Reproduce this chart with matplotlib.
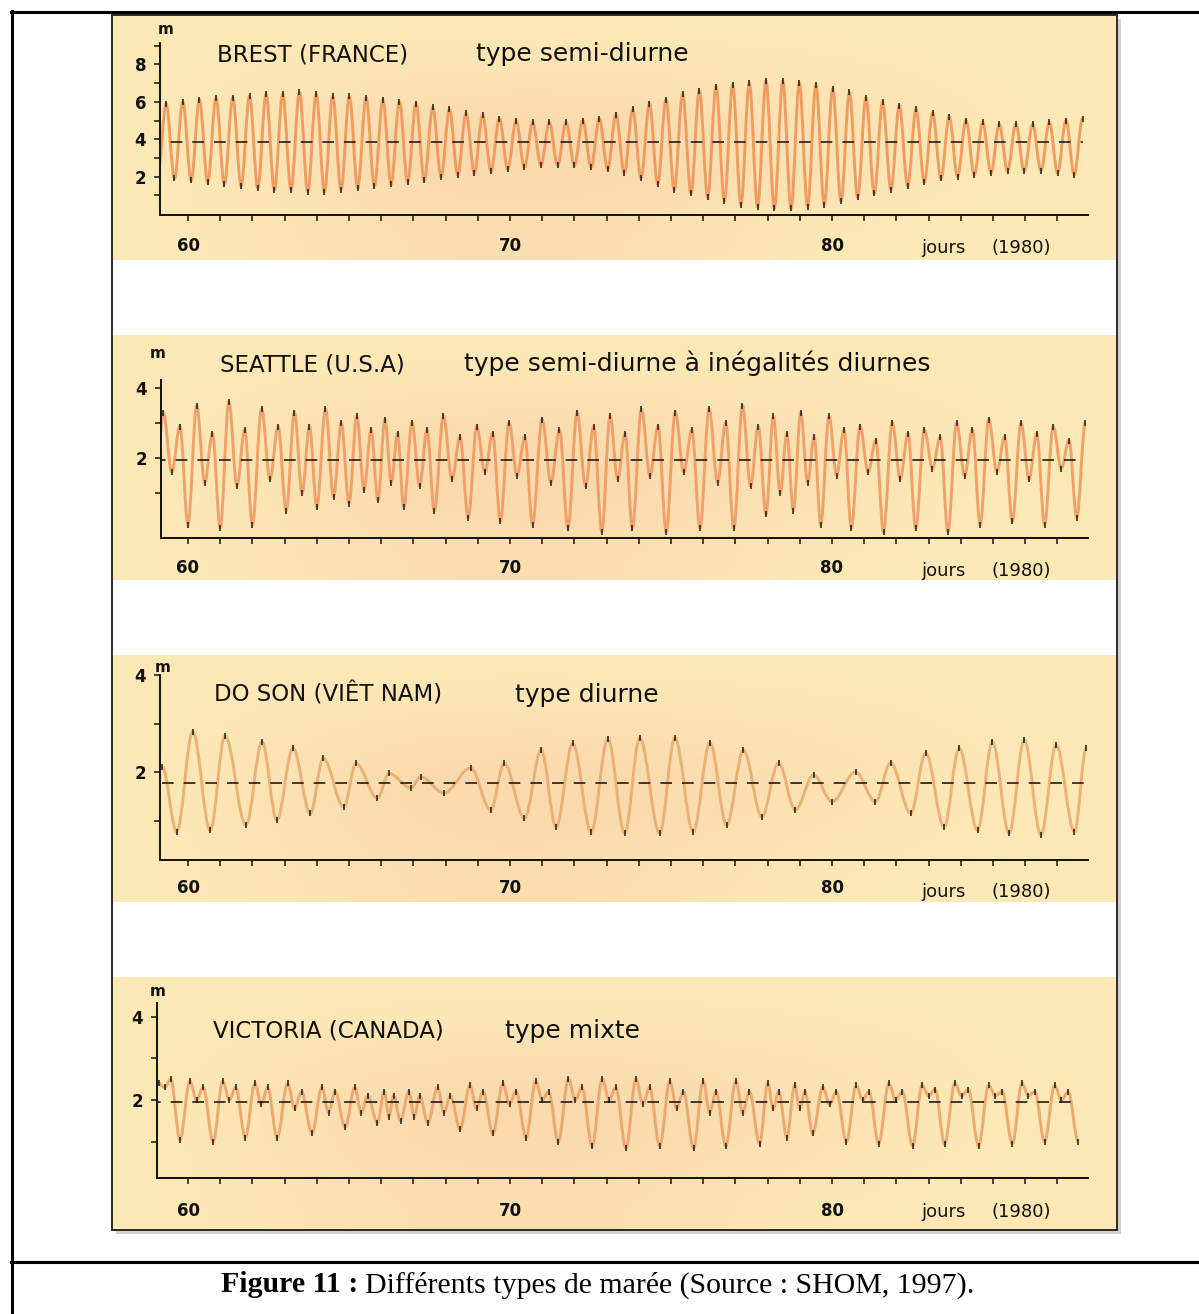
import numpy as np
import matplotlib

matplotlib.use("Agg")
import matplotlib.pyplot as plt
from matplotlib.path import Path
from matplotlib.patches import PathPatch, Rectangle

plt.rcParams["font.family"] = ["DejaVu Sans"]

W, H = 1199, 1314

# ---- values (days of 1980, water level in m) ----
# Brest, semi-diurnal: each lunar day = HW1, LW1, HW2, LW2
brest_days = [58.80, 59.84, 60.87, 61.91, 62.94, 63.98, 65.01, 66.05, 67.08, 68.12,
              69.15, 70.19, 71.22, 72.26, 73.29, 74.33, 75.36, 76.40, 77.43, 78.47,
              79.50, 80.54, 81.57, 82.61, 83.64, 84.68, 85.71, 86.75, 87.78]
brest_hw1 = [5.8, 6.0, 6.2, 6.3, 6.4, 6.4, 6.3, 6.1, 5.9, 5.6, 5.3, 5.0, 4.9, 5.0, 5.3,
             5.9, 6.4, 6.8, 7.0, 7.1, 6.9, 6.5, 6.0, 5.6, 5.2, 4.9, 4.8, 4.9, 5.1]
brest_lw1 = [2.0, 1.8, 1.6, 1.4, 1.3, 1.2, 1.4, 1.6, 1.8, 2.1, 2.3, 2.5, 2.6, 2.5, 2.2,
             1.6, 1.1, 0.7, 0.4, 0.3, 0.5, 0.9, 1.3, 1.7, 2.0, 2.2, 2.3, 2.2, 2.0]
brest_hw2 = [5.9, 6.1, 6.2, 6.4, 6.5, 6.3, 6.2, 6.0, 5.7, 5.4, 5.1, 4.9, 4.9, 5.1, 5.6,
             6.1, 6.6, 6.9, 7.1, 7.0, 6.7, 6.2, 5.8, 5.4, 5.0, 4.8, 4.8, 5.0, 5.2]
brest_lw2 = [1.9, 1.7, 1.5, 1.3, 1.2, 1.3, 1.5, 1.7, 2.0, 2.2, 2.4, 2.6, 2.6, 2.4, 1.9,
             1.3, 0.9, 0.5, 0.3, 0.4, 0.7, 1.1, 1.5, 1.9, 2.1, 2.3, 2.3, 2.1, 1.9]
brest_mean = 3.85

# Seattle, semi-diurnal with diurnal inequality: LL, HH, HL, LH per day
seattle_days = [58.95, 60.0, 61.0, 62.0, 63.05, 64.0, 65.0, 65.9, 66.7, 67.65,
                68.7, 69.7, 70.7, 71.8, 72.85, 73.8, 74.85, 75.9, 76.95, 77.95,
                78.8, 79.65, 80.6, 81.6, 82.6, 83.6, 84.6, 85.6, 86.6, 87.6]
seattle_ll = [0.5, 0.1, 0.0, 0.1, 0.5, 0.6, 0.7, 0.8, 0.6, 0.5, 0.3, 0.2, 0.1, 0.0, -0.1,
              0.0, -0.1, 0.0, 0.0, 0.4, 0.5, 0.1, 0.0, -0.1, 0.0, -0.1, 0.1, 0.2, 0.1, 0.3]
seattle_hh = [3.3, 3.5, 3.6, 3.4, 3.3, 3.4, 3.2, 3.1, 3.0, 3.2, 2.9, 3.0, 3.1, 3.3, 3.2,
              3.4, 3.3, 3.4, 3.5, 3.2, 3.3, 3.2, 2.9, 3.0, 2.8, 3.0, 3.1, 3.0, 2.9, 3.0]
seattle_hl = [1.6, 1.3, 1.2, 1.4, 1.0, 0.9, 1.1, 1.3, 1.2, 1.4, 1.6, 1.5, 1.3, 1.2, 1.4,
              1.5, 1.6, 1.3, 1.2, 1.0, 1.3, 1.5, 1.6, 1.4, 1.7, 1.5, 1.6, 1.4, 1.7, 1.5]
seattle_lh = [2.9, 2.7, 2.8, 2.9, 2.9, 3.0, 2.8, 2.7, 2.8, 2.6, 2.7, 2.6, 2.8, 2.9, 2.7,
              2.9, 2.8, 3.0, 2.9, 2.7, 2.6, 2.8, 2.5, 2.7, 2.6, 2.8, 2.6, 2.7, 2.5, 2.4]
seattle_mean = 1.95

# Do Son, diurnal: one high and one low water a day
doson_hw_t = [59.2, 60.15, 61.15, 62.3, 63.26, 64.2, 65.22, 66.24, 67.23, 68.78,
              69.82, 70.97, 71.95, 73.04, 74.03, 75.12, 76.21, 77.25, 78.34, 79.43,
              80.73, 81.82, 82.91, 83.95, 84.98, 85.97, 86.96, 87.9]
doson_hw = [2.1, 2.83, 2.74, 2.62, 2.49, 2.28, 2.18, 1.97, 1.90, 2.08,
            2.18, 2.45, 2.59, 2.69, 2.70, 2.70, 2.60, 2.45, 2.19, 1.94,
            2.00, 2.19, 2.39, 2.49, 2.62, 2.66, 2.56, 2.50]
doson_lw_t = [59.65, 60.69, 61.8, 62.76, 63.8, 64.84, 65.88, 66.92, 67.95, 69.4,
              70.45, 71.43, 72.52, 73.56, 74.65, 75.69, 76.73, 77.82, 78.86, 80.0,
              81.35, 82.44, 83.48, 84.52, 85.5, 86.49, 87.53]
doson_lw = [0.77, 0.80, 0.91, 1.01, 1.15, 1.28, 1.46, 1.67, 1.57, 1.22,
            1.05, 0.87, 0.77, 0.74, 0.74, 0.77, 0.91, 1.08, 1.22, 1.39,
            1.39, 1.15, 0.87, 0.80, 0.74, 0.70, 0.77]
doson_mean = 1.77

# Victoria, mixed: LL, HH, HL, LH per day
victoria_days = [58.8, 59.75, 60.78, 61.78, 62.77, 63.85, 64.88, 65.88, 66.6, 67.45,
                 68.45, 69.47, 70.5, 71.5, 72.55, 73.6, 74.65, 75.7, 76.7, 77.75,
                 78.6, 79.4, 80.45, 81.45, 82.5, 83.5, 84.55, 85.6, 86.6, 87.65]
victoria_ll = [1.2, 1.05, 1.0, 1.1, 1.1, 1.2, 1.35, 1.45, 1.5, 1.45, 1.3, 1.2, 1.1, 1.0, 0.9,
               0.85, 0.9, 0.85, 0.9, 0.95, 1.1, 1.2, 1.0, 0.95, 0.9, 0.95, 0.9, 0.95, 1.0, 1.0]
victoria_hh = [2.4, 2.45, 2.45, 2.4, 2.4, 2.3, 2.3, 2.2, 2.2, 2.3, 2.35, 2.4, 2.45, 2.5, 2.5,
               2.5, 2.45, 2.45, 2.45, 2.4, 2.35, 2.3, 2.35, 2.4, 2.35, 2.4, 2.35, 2.4, 2.35, 2.3]
victoria_hl = [2.3, 2.0, 2.0, 1.9, 1.8, 1.7, 1.7, 1.6, 1.6, 1.7, 1.8, 1.9, 2.0, 2.0, 2.0,
               1.9, 1.8, 1.7, 1.7, 1.8, 1.8, 1.9, 2.0, 2.0, 2.1, 2.1, 2.1, 2.1, 2.0, 2.0]
victoria_lh = [2.5, 2.3, 2.3, 2.3, 2.2, 2.2, 2.1, 2.1, 2.1, 2.1, 2.2, 2.2, 2.2, 2.3, 2.3,
               2.3, 2.2, 2.2, 2.2, 2.2, 2.2, 2.2, 2.2, 2.2, 2.25, 2.25, 2.2, 2.2, 2.2, 2.2]
victoria_mean = 1.95

day_ticks = list(range(60, 88))
day_labels = {60: "60", 70: "70", 80: "80"}
LAST_DAY = 87.95


def px_to_day(x):
    return 60 + (x - 188) / 32.2


def daily_extremes(days, series, fracs):
    """spread the extremes of each day over the interval to the next day"""
    t, h = [], []
    for i, d in enumerate(days):
        step = days[i + 1] - d if i + 1 < len(days) else d - days[i - 1]
        for frac, vals in zip(fracs, series):
            t.append(d + frac * step)
            h.append(vals[i])
    t, h = np.array(t), np.array(h)
    keep = t <= LAST_DAY
    return t[keep], h[keep]


def merge_extremes(t_hi, h_hi, t_lo, h_lo):
    t = np.array(t_hi + t_lo)
    h = np.array(h_hi + h_lo)
    order = np.argsort(t)
    return t[order], h[order]


def tide_path(t, h, k=0.36):
    verts = [(t[0], h[0])]
    codes = [Path.MOVETO]
    for t0, h0, t1, h1 in zip(t[:-1], h[:-1], t[1:], h[1:]):
        dt = t1 - t0
        verts += [(t0 + k * dt, h0), (t1 - k * dt, h1), (t1, h1)]
        codes += [Path.CURVE4] * 3
    return Path(verts, codes)


fig = plt.figure(figsize=(W / 100, H / 100), dpi=100)
fig.patch.set_facecolor("white")

bg = fig.add_axes([0, 0, 1, 1])
bg.set_zorder(0)
bg.axis("off")

# page frame (table borders)
bg.plot([11.5, 11.5], [11, H], color="black", lw=2.2)
bg.plot([11, W], [11.5, 11.5], color="black", lw=2.2)
bg.plot([11, W], [1262, 1262], color="black", lw=2.2)

# scanned picture with its shadow
bg.add_patch(Rectangle((116, 19), 1005, 1215, color="#9a9a9a", alpha=0.45, lw=0))
bg.add_patch(Rectangle((112, 15), 1005, 1215, facecolor="white", edgecolor="#2a2a2a", lw=1.4))

base = np.array([253, 233, 182]) / 255
pink = np.array([249, 212, 170]) / 255
mid = (base + pink) / 2
bands = [(16, 260), (335, 580), (655, 902), (977, 1229)]
glow = np.array([[base, base, base, base, base],
                 [base, pink, pink, mid, base],
                 [base, mid, mid, base, base]])
for y0, y1 in bands:
    bg.imshow(glow, extent=(113, 1116, y1, y0), origin="upper", aspect="auto",
              interpolation="bicubic", zorder=1)

bg.set_xlim(0, W)
bg.set_ylim(H, 0)

# panel geometry in pixels: y-axis x, top of y-axis, x-axis line, px of 2 m, px per m
panels = [
    dict(name="BREST (FRANCE)", kind="type semi-diurne", yx=160, top=43, axis=215,
         y2=176.6, ppm=18.7, yticks=range(1, 10), base=61, name_x=217, kind_x=476,
         pad=12, m=(166, 30), unit_y=248),
    dict(name="SEATTLE (U.S.A)", kind="type semi-diurne à inégalités diurnes", yx=161,
         top=380, axis=538, y2=458, ppm=35, yticks=range(1, 5), base=371, name_x=220,
         kind_x=464, pad=11, m=(158, 354), unit_y=571),
    dict(name="DO SON (VIÊT NAM)", kind="type diurne", yx=160, top=675, axis=860,
         y2=772, ppm=48.5, yticks=range(1, 5), base=702, name_x=214, kind_x=515,
         pad=10, m=(163, 667), unit_y=892),
    dict(name="VICTORIA (CANADA)", kind="type mixte", yx=157, top=1003, axis=1178,
         y2=1100, ppm=41.7, yticks=range(1, 5), base=1038, name_x=213, kind_x=505,
         pad=13, m=(158, 992), unit_y=1212),
]

curves = [
    (daily_extremes(brest_days, (brest_hw1, brest_lw1, brest_hw2, brest_lw2),
                    (0.0, 0.25, 0.5, 0.75)), brest_mean, "#EE9558"),
    (daily_extremes(seattle_days, (seattle_ll, seattle_hh, seattle_hl, seattle_lh),
                    (0.0, 0.27, 0.52, 0.76)), seattle_mean, "#EE9A62"),
    (merge_extremes(doson_hw_t, doson_hw, doson_lw_t, doson_lw), doson_mean, "#E8AC70"),
    (daily_extremes(victoria_days, (victoria_ll, victoria_hh, victoria_hl, victoria_lh),
                    (0.0, 0.3, 0.5, 0.7)), victoria_mean, "#EAA268"),
]

x_right = 1088
for p, ((t, h), mean, col) in zip(panels, curves):
    ax = fig.add_axes([p["yx"] / W, 1 - p["axis"] / H,
                       (x_right - p["yx"]) / W, (p["axis"] - p["top"]) / H])
    ax.set_zorder(2)
    ax.patch.set_visible(False)
    ax.set_xlim(px_to_day(p["yx"]), px_to_day(x_right))
    ax.set_ylim(2 - (p["axis"] - p["y2"]) / p["ppm"], 2 + (p["y2"] - p["top"]) / p["ppm"])

    ax.add_patch(PathPatch(tide_path(t, h), facecolor="none", edgecolor=col, lw=2.1,
                           alpha=0.9, zorder=2))
    ax.plot(t, h, ls="none", marker="|", ms=4.5, mew=1.1, color="#1c1c1c", zorder=3)
    ax.hlines(mean, t[0], t[-1], colors="#1c1c1c", linestyles=(0, (7, 6)), lw=1.2, zorder=3)

    for side in ("top", "right"):
        ax.spines[side].set_visible(False)
    for side in ("left", "bottom"):
        ax.spines[side].set_linewidth(1.4)
        ax.spines[side].set_color("#111111")

    ax.set_xticks(day_ticks)
    ax.set_xticklabels([day_labels.get(d, "") for d in day_ticks])
    yt = list(p["yticks"])
    ax.set_yticks(yt)
    ax.set_yticklabels([str(v) if v % 2 == 0 else "" for v in yt])
    ax.tick_params(axis="x", direction="out", length=4, width=1.1, pad=p["pad"],
                   labelsize=12, colors="#111111")
    ax.tick_params(axis="y", direction="out", length=4, width=1.1, pad=6,
                   labelsize=12, colors="#111111")
    for lab in ax.get_xticklabels() + ax.get_yticklabels():
        lab.set_fontweight("bold")

    bg.text(p["name_x"], p["base"], p["name"], fontsize=16.5, va="baseline", ha="left",
            color="#111111", zorder=4)
    bg.text(p["kind_x"], p["base"], p["kind"], fontsize=18, va="baseline", ha="left",
            color="#111111", zorder=4)
    bg.text(p["m"][0], p["m"][1], "m", fontsize=11, fontweight="bold", ha="center",
            va="center", color="#111111", zorder=4)
    bg.text(943, p["unit_y"], "jours", fontsize=13, ha="center", va="center",
            color="#111111", zorder=4)
    bg.text(1021, p["unit_y"], "(1980)", fontsize=13, ha="center", va="center",
            color="#111111", zorder=4)

# caption: bold label followed by regular text
cap_bold = bg.text(221, 1285, "Figure 11 :", fontsize=21.5, fontweight="bold",
                   family="Liberation Serif", ha="left", va="center")
fig.canvas.draw()
bb = cap_bold.get_window_extent()
bg.text(bb.x1 + 7, H - 1285, "Différents types de marée (Source : SHOM, 1997).",
        fontsize=21.5, family="Liberation Serif", ha="left", va="center",
        transform=None)

fig.savefig("out.png", dpi=100)
